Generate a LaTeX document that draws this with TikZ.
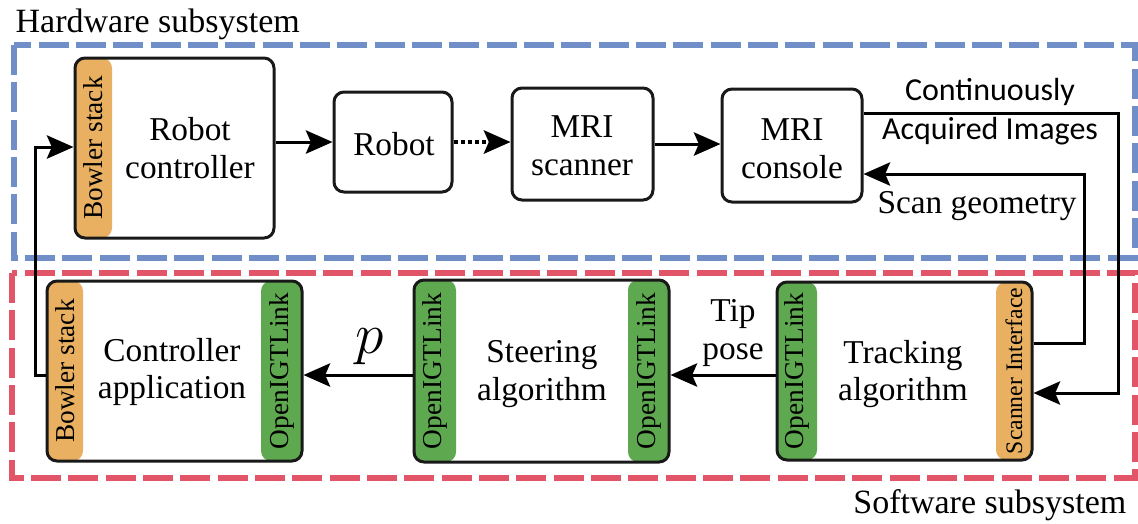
\documentclass[tikz,border=0pt]{standalone}
\usepackage{fontspec}
\setmainfont{Liberation Serif}
\newfontfamily\calib{Carlito}
\usepackage{xcolor}
\usetikzlibrary{positioning,fit,arrows.meta}

\definecolor{hwblue}{RGB}{112,142,200}
\definecolor{swred}{RGB}{226,84,104}
\definecolor{stackorange}{RGB}{232,176,96}
\definecolor{linkgreen}{RGB}{94,168,80}

\tikzset{
    blk/.style={draw=black!90, line width=0.9pt, rounded corners=3pt, inner sep=0pt},
    stripo/.style={fill=stackorange, rounded corners=3pt, inner sep=0pt},
    stripg/.style={fill=linkgreen, rounded corners=3pt, inner sep=0pt},
    striplbl/.style={rotate=90, inner sep=0pt, font=\fontsize{8.2}{9}\selectfont},
    txt/.style={align=center, inner sep=0pt, font=\fontsize{10}{11.3}\selectfont},
    arr/.style={-{Stealth[length=8pt,width=7pt,inset=1.5pt]}, line width=0.9pt},
    subsys/.style={dash pattern=on 9pt off 2.2pt, line width=1.6pt}
}

\begin{document}
\begin{tikzpicture}[x=0.3pt,y=-0.3pt]
    \useasboundingbox (0,0) rectangle (1138,523);

    % subsystem frames
    \draw[subsys, hwblue] (14,45) rectangle (1135,258);
    \draw[subsys, swred] (12,273) rectangle (1135,478);
    \node[anchor=base west, inner sep=0pt, font=\fontsize{10.2}{12}\selectfont] (hwlbl) at (15,32) {Hardware subsystem};
    \node[anchor=base east, inner sep=0pt, font=\fontsize{10.2}{12}\selectfont] (swlbl) at (1127,513) {Software subsystem};

    % coloured interface strips
    \node[stripo, fit={(75,58) (112,238)}] (rcstack) {};
    \node[stripo, fit={(47,281) (83,461)}] (castack) {};
    \node[stripg, fit={(261,281) (302,461)}] (calink) {};
    \node[stripg, fit={(414,280) (456,462)}] (salinkl) {};
    \node[stripg, fit={(628,280) (669,462)}] (salinkr) {};
    \node[stripg, fit={(777,282) (817,460)}] (talink) {};
    \node[stripo, fit={(996,282) (1032,460)}] (tascan) {};

    \foreach \s/\t in {rcstack/Bowler stack, castack/Bowler stack, calink/OpenIGTLink,
                       salinkl/OpenIGTLink, salinkr/OpenIGTLink, talink/OpenIGTLink}
        \node[striplbl] at (\s) {\t};
    \node[striplbl, font=\fontsize{7.1}{8}\selectfont] at (tascan) {Scanner Interface};

    % blocks
    \node[blk, fit={(75,58) (274,238)}] (rc) {};
    \node[blk, fit={(334,92) (452,192)}] (robot) {};
    \node[blk, fit={(512,88) (653,200)}] (scanner) {};
    \node[blk, fit={(722,89) (862,202)}] (console) {};
    \node[blk, fit={(47,281) (302,461)}] (ctrl) {};
    \node[blk, fit={(414,280) (669,462)}] (steer) {};
    \node[blk, fit={(777,282) (1032,460)}] (track) {};

    \node[txt] (rctxt) at (190,148) {Robot\\controller};
    \node[txt] (robottxt) at (394,144) {Robot};
    \node[txt] (scannertxt) at (582,146) {MRI\\scanner};
    \node[txt] (consoletxt) at (792,149) {MRI\\console};
    \node[txt] (ctrltxt) at (172,372) {Controller\\application};
    \node[txt] (steertxt) at (542,374) {Steering\\algorithm};
    \node[txt] (tracktxt) at (903,374) {Tracking\\algorithm};

    % connectors
    \draw[arr] (rc.east |- robot.west) -- (robot.west);
    \draw[arr, line width=1.1pt, dash pattern=on 1.2pt off 0.9pt] (robot.east) -- (scanner.west |- robot.east);
    \draw[arr] (scanner.east) -- (console.west |- scanner.east);

    \coordinate (imgout) at (1118,113);
    \coordinate (imgin) at (1118,393);
    \draw[arr] (console.east |- imgout) -- (imgout) -- (imgin) -- (track.east |- imgin);

    \coordinate (geoout) at (1084,343);
    \coordinate (geoin) at (1084,174);
    \draw[arr] (track.east |- geoout) -- (geoout) -- (geoin) -- (console.east |- geoin);

    \draw[arr] ([yshift=-1.2pt]track.west) -- ([yshift=-1.2pt]steer.east);
    \draw[arr] ([yshift=-1.2pt]steer.west) -- ([yshift=-1.2pt]ctrl.east);

    \coordinate (backup) at (35,147);
    \draw[arr] ([yshift=-1.2pt]ctrl.west) -| (backup) -- (rc.west |- backup);

    % connector labels
    \node[txt, font=\calib\fontsize{9.6}{11.7}\selectfont] (imglbl) at (990,112) {Continuously\\Acquired Images};
    \node[txt] (geolbl) at (977,206) {Scan geometry};
    \node[txt] (poselbl) at (733,333) {Tip\\pose};
    \node[anchor=base, inner sep=0pt, font=\fontsize{17}{20}\selectfont] (plbl) at (370,353) {$p$};
\end{tikzpicture}
\end{document}
